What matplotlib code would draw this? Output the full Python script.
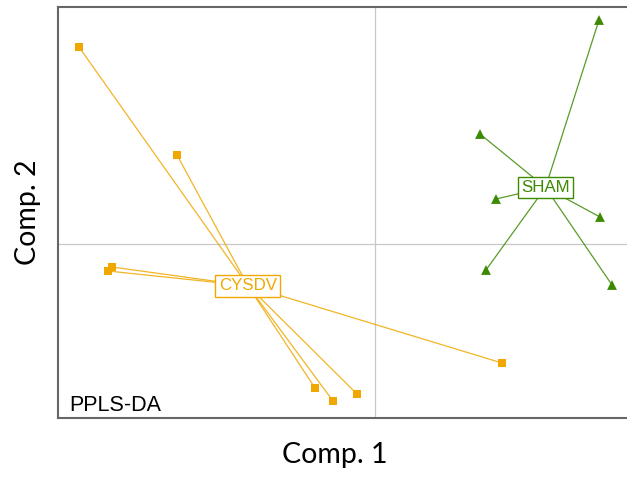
import numpy as np
import matplotlib.pyplot as plt

# sample scores on the first two components
cysdv_x = [-2.96, -1.98, -2.63, -2.67, -0.60, -0.42, -0.18, 1.27]
cysdv_y = [1.97, 0.89, -0.23, -0.27, -1.44, -1.57, -1.50, -1.19]
sham_x = [2.24, 1.05, 1.21, 2.25, 1.11, 2.37]
sham_y = [2.24, 1.10, 0.45, 0.27, -0.26, -0.41]

groups = ["CYSDV", "SHAM"]
colors = ["#f0a800", "#3d8a00"]
markers = ["s", "^"]

W, H = 627, 479
fig = plt.figure(figsize=(W / 100, H / 100), dpi=100)
left_px, right_px, top_px, bot_px = 57.5, 645, 7, 418
ax = fig.add_axes([left_px / W, 1 - bot_px / H,
                   (right_px - left_px) / W, (bot_px - top_px) / H])

ax.set_xlim((left_px - 375) / 100, (right_px - 375) / 100)
ax.set_ylim((244 - bot_px) / 100, (244 - top_px) / 100)

ax.axhline(0, color="#c8c8c8", lw=0.9, zorder=0)
ax.axvline(0, color="#c8c8c8", lw=0.9, zorder=0)

for name, xs, ys, c, m in zip(groups, [cysdv_x, sham_x], [cysdv_y, sham_y],
                              colors, markers):
    xs = np.array(xs)
    ys = np.array(ys)
    cx, cy = xs.mean(), ys.mean()
    for x, y in zip(xs, ys):
        ax.plot([cx, x], [cy, y], color=c, lw=0.9, alpha=0.85, zorder=2)
    ax.scatter(xs, ys, marker=m, s=38 if m == "s" else 50, color=c,
               edgecolors="none", zorder=3)
    ax.text(cx, cy, name, color=c, fontsize=12.2, family="Liberation Sans",
            ha="center", va="center", zorder=4,
            bbox=dict(boxstyle="square,pad=0.2", fc="white", ec=c, lw=1))

ax.text(0.02, 0.006, "PPLS-DA", transform=ax.transAxes, fontsize=15.5,
        family="Liberation Sans", color="black", ha="left", va="bottom")

ax.set_xticks([])
ax.set_yticks([])
for s in ax.spines.values():
    s.set_color("#666666")
    s.set_linewidth(1.5)

ax.set_xlabel("Comp. 1", fontsize=20.5, family="Lato")
ax.set_ylabel("Comp. 2", fontsize=20.5, family="Lato")
ax.xaxis.set_label_coords((335 - left_px) / (right_px - left_px), -(455 - bot_px) / (bot_px - top_px))
ax.yaxis.set_label_coords(-(57.5 - 28) / (right_px - left_px), 0.5)
ax.xaxis.label.set_va("center")
ax.yaxis.label.set_va("center")

fig.savefig("out.png", dpi=100)
